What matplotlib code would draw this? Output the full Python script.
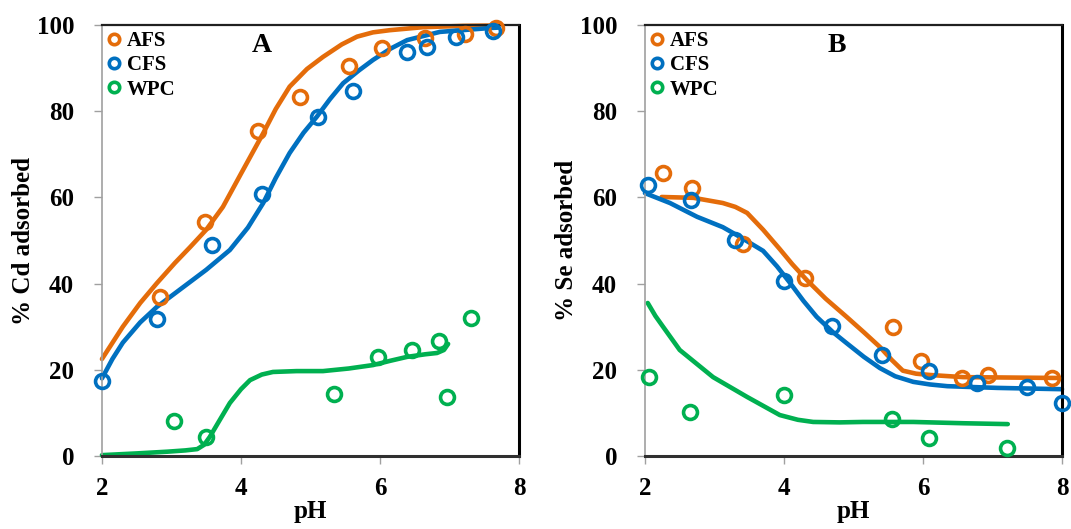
import numpy as np
import matplotlib
matplotlib.use("Agg")
import matplotlib.pyplot as plt

plt.rcParams['font.family'] = ['Liberation Serif', 'DejaVu Serif']
plt.rcParams['font.weight'] = 'bold'

ORANGE = '#E46C0A'
BLUE = '#0070C0'
GREEN = '#00B050'

# ---- Panel A: Cd adsorption vs pH (measured points) ----
cd_afs_ph = [2.83, 3.48, 4.24, 4.85, 5.55, 6.03, 6.65, 7.22, 7.67]
cd_afs = [36.9, 54.3, 75.4, 83.3, 90.5, 94.7, 97.0, 98.0, 99.2]
cd_cfs_ph = [2.0, 2.79, 3.58, 4.30, 5.11, 5.61, 6.39, 6.68, 7.09, 7.63]
cd_cfs = [17.5, 31.8, 49.0, 60.8, 78.6, 84.7, 93.7, 95.0, 97.3, 98.6]
cd_wpc_ph = [3.04, 3.50, 5.34, 5.97, 6.46, 6.85, 6.96, 7.31]
cd_wpc = [8.1, 4.4, 14.4, 23.0, 24.6, 26.7, 13.7, 32.0]

# fitted curves, panel A
cd_afs_fit_ph = [2.0, 2.3, 2.55, 2.79, 3.05, 3.27, 3.5, 3.74, 4.0, 4.32, 4.5, 4.7,
                 4.95, 5.18, 5.45, 5.67, 5.9, 6.14, 6.62, 7.2, 7.7]
cd_afs_fit = [22.5, 30.0, 35.5, 40.1, 44.8, 48.5, 52.5, 57.8, 65.5, 74.9, 80.5,
              85.7, 89.8, 92.6, 95.5, 97.3, 98.3, 98.8, 99.5, 99.8, 99.9]
cd_cfs_fit_ph = [2.0, 2.15, 2.3, 2.55, 2.79, 3.17, 3.5, 3.84, 4.1, 4.32, 4.5, 4.7,
                 4.9, 5.09, 5.28, 5.47, 5.7, 5.9, 6.15, 6.39, 6.86, 7.58, 7.7]
cd_cfs_fit = [18.0, 22.5, 26.3, 31.0, 34.6, 39.2, 43.2, 47.8, 53.0, 58.7, 64.5,
              70.3, 75.0, 78.7, 82.8, 86.5, 89.5, 91.9, 94.5, 96.5, 98.4, 99.3, 99.4]
cd_wpc_fit_ph = [2.0, 2.5, 2.94, 3.2, 3.37, 3.47, 3.55, 3.7, 3.84, 4.0, 4.13, 4.3,
                 4.46, 4.8, 5.18, 5.55, 5.9, 6.15, 6.39, 6.65, 6.82, 6.92, 6.98]
cd_wpc_fit = [0.2, 0.6, 1.0, 1.3, 1.6, 2.6, 4.4, 8.5, 12.3, 15.5, 17.6, 18.9,
              19.5, 19.7, 19.7, 20.3, 21.1, 22.1, 23.0, 23.6, 23.9, 24.6, 26.0]

# ---- Panel B: Se adsorption vs pH (measured points) ----
se_afs_ph = [2.26, 2.68, 3.41, 4.30, 5.57, 5.97, 6.56, 6.94, 7.86]
se_afs = [65.7, 62.2, 49.2, 41.3, 30.0, 22.0, 18.1, 18.8, 18.1]
se_cfs_ph = [2.04, 2.66, 3.30, 4.00, 4.69, 5.41, 6.09, 6.78, 7.50, 8.00]
se_cfs = [62.9, 59.4, 50.1, 40.6, 30.2, 23.4, 19.7, 16.9, 16.0, 12.3]
se_wpc_ph = [2.06, 2.65, 4.00, 5.55, 6.09, 7.21]
se_wpc = [18.3, 10.2, 14.2, 8.6, 4.2, 1.9]

# fitted curves, panel B
se_afs_fit_ph = [2.24, 2.7, 3.12, 3.3, 3.47, 3.7, 3.94, 4.12, 4.33, 4.6, 4.9,
                 5.15, 5.38, 5.55, 5.71, 5.9, 6.1, 6.58, 7.97]
se_afs_fit = [60.1, 59.9, 58.7, 57.8, 56.4, 52.5, 48.0, 44.5, 40.8, 36.5, 32.3,
              28.7, 25.3, 22.3, 19.8, 19.1, 18.8, 18.3, 18.1]
se_cfs_fit_ph = [2.0, 2.36, 2.75, 3.12, 3.37, 3.7, 3.9, 4.09, 4.28, 4.47, 4.7,
                 4.9, 5.15, 5.38, 5.6, 5.86, 6.1, 6.35, 7.07, 8.0]
se_cfs_fit = [61.0, 58.7, 55.5, 53.1, 50.8, 47.6, 44.0, 40.1, 36.0, 32.3, 28.8,
              26.2, 23.0, 20.4, 18.5, 17.2, 16.6, 16.2, 15.8, 15.5]
se_wpc_fit_ph = [2.04, 2.15, 2.26, 2.5, 2.98, 3.47, 3.94, 4.2, 4.42, 4.8, 5.14,
                 5.86, 6.58, 7.22]
se_wpc_fit = [35.5, 32.5, 30.0, 24.6, 18.3, 13.7, 9.5, 8.4, 7.9, 7.8, 7.9,
              7.9, 7.6, 7.4]

ph_ticks = [2, 4, 6, 8]
pct_ticks = [0, 20, 40, 60, 80, 100]


def draw_panel(ax, series, ylabel, tag, tag_x):
    for ph, val, fit_ph, fit_val, color, name in series:
        ax.plot(fit_ph, fit_val, '-', color=color, linewidth=3.3,
                solid_capstyle='round', solid_joinstyle='round', zorder=2)
        ax.plot(ph, val, 'o', markerfacecolor='none', markeredgecolor=color,
                markeredgewidth=2.6, markersize=10, linestyle='none',
                label=name, zorder=3)

    ax.set_xlim(2, 8)
    ax.set_ylim(0, 100)
    ax.set_xticks(ph_ticks)
    ax.set_yticks(pct_ticks)
    ax.tick_params(axis='both', direction='out', length=6, width=1,
                   color='#A0A0A0', labelsize=18)
    ax.tick_params(axis='x', pad=9)
    ax.tick_params(axis='y', pad=14)
    for lab in ax.get_xticklabels() + ax.get_yticklabels():
        lab.set_fontweight('bold')

    ax.set_xlabel('pH', fontsize=18, fontweight='bold', labelpad=0)
    ax.set_ylabel(ylabel, fontsize=18, fontweight='bold', labelpad=1)

    ax.spines['left'].set_color('#A0A0A0')
    ax.spines['left'].set_linewidth(1.2)
    ax.spines['top'].set_color('#202020')
    ax.spines['top'].set_linewidth(1.6)
    ax.spines['right'].set_color('black')
    ax.spines['right'].set_linewidth(2.2)
    ax.spines['bottom'].set_color('#303030')
    ax.spines['bottom'].set_linewidth(2.2)

    ax.text(tag_x, 95.3, tag, fontsize=20, fontweight='bold',
            ha='center', va='center')

    leg = ax.legend(loc='upper left', frameon=False,
                    markerscale=0.75, handlelength=0.6, handletextpad=0.3,
                    labelspacing=0.2, borderaxespad=0.1,
                    borderpad=0.2, prop={'weight': 'bold', 'size': 15})
    return leg


fig = plt.figure(figsize=(10.71, 5.29), dpi=100)
ax_a = fig.add_axes([0.0952, 0.138, 0.3894, 0.8147])
ax_b = fig.add_axes([0.6022, 0.138, 0.3894, 0.8147])

draw_panel(ax_a, [
    (cd_afs_ph, cd_afs, cd_afs_fit_ph, cd_afs_fit, ORANGE, 'AFS'),
    (cd_cfs_ph, cd_cfs, cd_cfs_fit_ph, cd_cfs_fit, BLUE, 'CFS'),
    (cd_wpc_ph, cd_wpc, cd_wpc_fit_ph, cd_wpc_fit, GREEN, 'WPC'),
], '% Cd adsorbed', 'A', 4.3)

draw_panel(ax_b, [
    (se_afs_ph, se_afs, se_afs_fit_ph, se_afs_fit, ORANGE, 'AFS'),
    (se_cfs_ph, se_cfs, se_cfs_fit_ph, se_cfs_fit, BLUE, 'CFS'),
    (se_wpc_ph, se_wpc, se_wpc_fit_ph, se_wpc_fit, GREEN, 'WPC'),
], '% Se adsorbed', 'B', 4.76)

for ax in (ax_a, ax_b):
    for artist in ax.lines:
        artist.set_clip_on(False)

fig.savefig('out.png', dpi=100)
